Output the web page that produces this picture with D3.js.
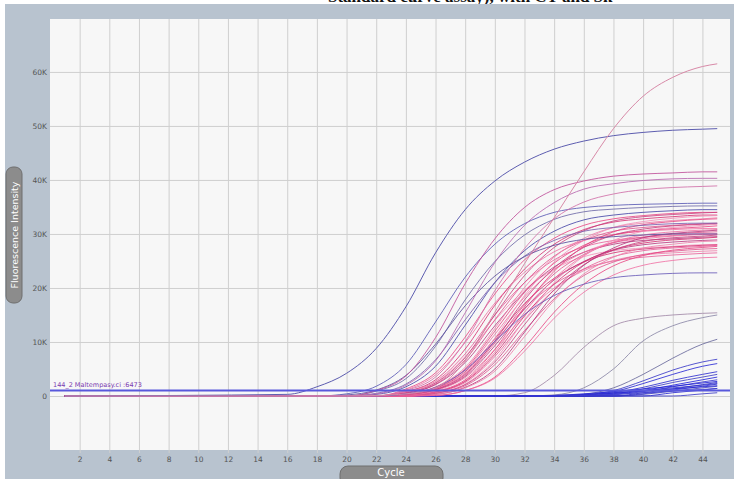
<!DOCTYPE html>
<html>
<head>
<meta charset="utf-8">
<script src="https://cdn.jsdelivr.net/npm/d3@7/dist/d3.min.js"></script>
<style>
  body { margin: 0; background: #fff; }
  svg { display: block; }
</style>
</head>
<body>
<div id="chart"></div>
<script>
const cycles = [1, 16, 18, 20, 22, 24, 26, 28, 30, 32, 34, 36, 38, 40, 42, 44, 45];

const xTickLabels = [2, 4, 6, 8, 10, 12, 14, 16, 18, 20, 22, 24, 26, 28, 30, 32, 34, 36, 38, 40, 42, 44];
const yTicks = [0, 10, 20, 30, 40, 50, 60];
const yTickLabels = ["0", "10K", "20K", "30K", "40K", "50K", "60K"];

const thresholdValue = 1.0;
const thresholdLabel = "144_2 Maltempasy.ci :6473";

// earliest curve, slate blue
const earlyBlue = [0, 0.3, 1.7, 4.2, 8.8, 16.5, 26.5, 34.5, 39.8, 43.3, 45.7, 47.2, 48.2, 48.8, 49.2, 49.4, 49.5];
// steep pink curve that ends highest
const steepPink = [0, 0, 0, 0, 0.1, 0.4, 1.5, 6.5, 15.5, 24.5, 33, 41.5, 49.5, 55.5, 59, 61, 61.5];

const upperPink = [
  [0, 0, 0, 0, 1.0, 3.7, 10.8, 20.8, 29.1, 34.9, 38.2, 39.8, 40.7, 41.1, 41.3, 41.5, 41.5],
  [0, 0, 0, 0, 0.4, 2.0, 6.5, 15.4, 24.7, 31.6, 35.8, 38.3, 39.3, 39.9, 40.2, 40.3, 40.3],
  [0, 0, 0, 0, 0, 1.0, 3.5, 10.1, 19.5, 27.3, 32.8, 35.9, 37.4, 38.2, 38.6, 38.8, 38.9]
];

const midPurple = [
  [0, 0, 0, 0.4, 1.8, 5.8, 13.7, 22, 28.1, 31.9, 34, 34.9, 35.3, 35.5, 35.6, 35.7, 35.7],
  [0, 0, 0, 0, 0.9, 3.2, 9.2, 17.8, 24.9, 29.8, 32.7, 34.1, 34.6, 34.9, 35.1, 35.2, 35.2],
  [0, 0, 0, 0, 0.3, 1.7, 5.5, 13.1, 21, 26.9, 30.5, 32.6, 33.5, 34, 34.3, 34.5, 34.5],
  [0, 0, 0, 0, 0.5, 2.2, 6.7, 14.1, 21, 25.9, 28.8, 30.5, 31.2, 31.6, 31.9, 32, 32],
  [0, 0, 0, 0.2, 1.1, 3.8, 9.6, 16.7, 22.2, 25.8, 27.9, 29, 29.5, 29.8, 30, 30, 30],
  [0, 0, 0, 0, 0, 0.4, 1.6, 4.8, 10.1, 15.1, 18.6, 20.7, 21.9, 22.4, 22.7, 22.8, 22.8]
];

const pinkCluster = [
  [0, 0, 0, 0, 0, 1.3, 4.3, 10.9, 18.9, 25.2, 29.2, 31.6, 32.8, 33.4, 33.8, 34, 34],
  [0, 0, 0, 0, 0, 1.1, 3.9, 9.9, 17.2, 22.9, 26.7, 28.8, 29.9, 30.5, 30.8, 31, 31],
  [0, 0, 0, 0, 0, 0.8, 3, 8.7, 16.8, 23.5, 28.1, 30.8, 32.2, 32.8, 33.2, 33.5, 33.5],
  [0, 0, 0, 0, 0, 0.8, 2.7, 7.8, 15, 21, 25.2, 27.6, 28.8, 29.4, 29.7, 30, 30],
  [0, 0, 0, 0, 0, 0.7, 2.5, 7.3, 14, 19.6, 23.5, 25.8, 26.9, 27.4, 27.7, 28, 28],
  [0, 0, 0, 0, 0, 0.6, 2.4, 7.1, 15, 22.3, 27.5, 30.6, 32.4, 33.2, 33.6, 33.9, 34],
  [0, 0, 0, 0, 0, 0.5, 2.2, 6.7, 14.1, 21, 25.9, 28.8, 30.5, 31.2, 31.6, 31.9, 32],
  [0, 0, 0, 0, 0, 0.5, 2.1, 6.2, 13, 19.3, 23.9, 26.6, 28.1, 28.8, 29.1, 29.4, 29.5],
  [0, 0, 0, 0, 0, 0.3, 1.7, 5.3, 12.5, 20.1, 25.7, 29.2, 31.2, 32, 32.5, 32.8, 33],
  [0, 0, 0, 0, 0, 0.3, 1.6, 5, 12, 19.2, 24.6, 27.9, 29.8, 30.6, 31, 31.3, 31.5],
  [0, 0, 0, 0, 0, 0.3, 1.5, 4.8, 11.4, 18.3, 23.4, 26.6, 28.4, 29.1, 29.6, 29.9, 30],
  [0, 0, 0, 0, 0, 0.3, 1.4, 4.5, 10.6, 17.1, 21.8, 24.8, 26.5, 27.2, 27.6, 27.9, 28],
  [0, 0, 0, 0, 0, 0.3, 1.3, 4.2, 10.1, 16.2, 20.7, 23.5, 25, 25.7, 26.1, 26.4, 26.5],
  [0, 0, 0, 0, 0, 0.2, 1.2, 4.2, 10.7, 18.6, 24.8, 28.8, 31.2, 32.3, 32.9, 33.3, 33.4],
  [0, 0, 0, 0, 0, 0.2, 1.2, 4, 10.2, 17.8, 23.7, 27.5, 29.8, 30.9, 31.5, 31.8, 31.9],
  [0, 0, 0, 0, 0, 0.2, 1.1, 3.8, 9.8, 16.9, 22.6, 26.2, 28.4, 29.4, 30, 30.3, 30.4],
  [0, 0, 0, 0, 0, 0.1, 1.1, 3.6, 9.3, 16.1, 21.5, 24.9, 27, 28, 28.5, 28.8, 28.9],
  [0, 0, 0, 0, 0, 0.1, 1, 3.4, 8.6, 15, 20, 23.2, 25.1, 26.1, 26.5, 26.8, 26.9],
  [0, 0, 0, 0, 0, 0, 0.8, 3, 8.6, 16.5, 23.1, 27.7, 30.4, 31.7, 32.3, 32.7, 32.8],
  [0, 0, 0, 0, 0, 0, 0.8, 2.8, 8.1, 15.5, 21.7, 26, 28.5, 29.8, 30.4, 30.7, 30.8],
  [0, 0, 0, 0, 0, 0, 0.7, 2.7, 7.7, 14.8, 20.7, 24.8, 27.1, 28.3, 28.9, 29.2, 29.4],
  [0, 0, 0, 0, 0, 0, 0.7, 2.5, 7.3, 14, 19.6, 23.5, 25.8, 26.9, 27.4, 27.7, 27.9],
  [0, 0, 0, 0, 0, 0, 0.5, 2.2, 6.7, 14.1, 21, 25.9, 28.8, 30.5, 31.2, 31.6, 31.8],
  [0, 0, 0, 0, 0, 0, 0.5, 2.1, 6.3, 13.2, 19.7, 24.3, 27, 28.6, 29.3, 29.6, 29.8],
  [0, 0, 0, 0, 0, 0, 0.5, 1.9, 5.8, 12.1, 18, 22.3, 24.8, 26.2, 26.8, 27.2, 27.3],
  [0, 0, 0, 0, 0, 0, 0.3, 1.6, 5, 11.8, 18.9, 24.2, 27.4, 29.3, 30.1, 30.5, 30.7],
  [0, 0, 0, 0, 0, 0, 0.3, 1.5, 4.6, 11, 17.7, 22.6, 25.7, 27.4, 28.1, 28.6, 28.7],
  [0, 0, 0, 0, 0, 0, 0.1, 1, 3.5, 9, 15.5, 20.7, 24.1, 26, 27, 27.5, 27.7],
  [0, 0, 0, 0, 0, 0, 0.1, 1, 3.3, 8.3, 14.4, 19.2, 22.4, 24.2, 25.1, 25.6, 25.7]
];

const lateBlue = [
  [0, 0, 0, 0, 0, 0, 0, 0, 0, 0.6, 3.8, 9, 13, 14.4, 15, 15.3, 15.4],
  [0, 0, 0, 0, 0, 0, 0, 0, 0, 0, 0.2, 1.5, 5, 10.2, 13, 14.5, 15],
  [0, 0, 0, 0, 0, 0, 0, 0, 0, 0, 0, 0.3, 1.5, 4, 7, 9.6, 10.5],
  [0, 0, 0, 0, 0, 0, 0, 0, 0, 0, 0, 0.2, 1, 2.8, 4.8, 6.3, 6.8],
  [0, 0, 0, 0, 0, 0, 0, 0, 0, 0, 0, 0.1, 0.8, 2.3, 4, 5.5, 6],
  [0, 0, 0, 0, 0, 0, 0, 0, 0, 0, 0, 0, 0.6, 1.6, 2.9, 4, 4.5],
  [0, 0, 0, 0, 0, 0, 0, 0, 0, 0, 0, 0, 0.4, 1.3, 2.5, 3.5, 4],
  [0, 0, 0, 0, 0, 0, 0, 0, 0, 0, 0, 0, 0.3, 1, 2, 3, 3.5],
  [0, 0, 0, 0, 0, 0, 0, 0, 0, 0, 0, 0, 0.2, 0.8, 1.7, 2.6, 3],
  [0, 0, 0, 0, 0, 0, 0, 0, 0, 0, 0, 0, 0, 0.6, 1.3, 2.1, 2.5],
  [0, 0, 0, 0, 0, 0, 0, 0, 0, 0, 0, 0, 0, 0.4, 1.1, 1.8, 2.2],
  [0, 0, 0, 0, 0, 0, 0, 0, 0, 0, 0, 0, 0, 0.3, 0.9, 1.5, 1.8],
  [0, 0, 0, 0, 0, 0, 0, 0, 0, 0, 0, 0, 0, 0, 0.6, 1.1, 1.4],
  [0, 0, 0, 0, 0, 0, 0, 0, 0, 0, 0, 0, 0, 0, 0, 0.4, 0.6],
  [0, 0, 0, 0, 0, 0, 0, 0, 0, 0, 0.1, 0.4, 0.8, 1.3, 1.8, 2.4, 2.7],
  [0, 0, 0, 0, 0, 0, 0, 0, 0, 0, 0.1, 0.3, 0.6, 1.0, 1.5, 2.0, 2.3],
  [0, 0, 0, 0, 0, 0, 0, 0, 0, 0, 0, 0.2, 0.5, 0.9, 1.3, 1.7, 1.9],
  [0, 0, 0, 0, 0, 0, 0, 0, 0, 0, 0, 0.1, 0.3, 0.6, 0.9, 1.2, 1.4]
];

const pinkColors = ["#e8407f", "#f06aa0", "#d42a6e", "#e75a96", "#f28cb6", "#c73d7d", "#e0508c", "#b8327a", "#ee7aa8"];
const purpleColors = ["#5b5bb5", "#6e6aa8", "#4848a8", "#7c5fae", "#5a4f9e", "#6a5cb8"];
const lateColors = ["#a28aa8", "#8c88a8", "#6a6a9c", "#3a3ac8", "#2b2bd6", "#3030d0", "#4040c4", "#2626dc", "#3a3ad0", "#2e2ec8", "#3535d8", "#4545c0", "#2a2ad0", "#3c3cc8", "#2020d8", "#3434cc", "#2828d4", "#4040d0"];

const width = 734, height = 479;
const margin = { left: 50, top: 19, right: 4, bottom: 29 };

const x = d3.scaleLinear().domain([0, 45.86]).range([margin.left, width - margin.right]);
const y = d3.scaleLinear().domain([-10, 69.8]).range([height - margin.bottom, margin.top]);

const svg = d3.select("#chart").append("svg")
  .attr("width", width)
  .attr("height", height);

// title of the page, mostly cut off by the top edge
svg.append("text")
  .attr("x", 328)
  .attr("y", 2)
  .attr("font-family", "Liberation Serif, Times New Roman, serif")
  .attr("font-weight", "bold")
  .attr("font-size", 17)
  .attr("fill", "#111")
  .text("Standard curve assay), with CT and Sk");

// outer panel
svg.append("rect")
  .attr("x", 5).attr("y", 4)
  .attr("width", width - 5).attr("height", height - 4)
  .attr("fill", "#b8c3cf");

svg.append("rect")
  .attr("x", margin.left).attr("y", margin.top)
  .attr("width", x.range()[1] - x.range()[0])
  .attr("height", y.range()[0] - y.range()[1])
  .attr("fill", "#f7f7f7");

// grid + axes
const xAxis = d3.axisBottom(x)
  .tickValues(xTickLabels)
  .tickSize(-(y.range()[0] - y.range()[1] + 3))
  .tickPadding(4);

const yAxis = d3.axisLeft(y)
  .tickValues(yTicks)
  .tickFormat((d, i) => yTickLabels[i])
  .tickSize(-(x.range()[1] - x.range()[0]))
  .tickPadding(3);

const gx = svg.append("g")
  .attr("transform", `translate(0,${y.range()[0] + 3})`)
  .call(xAxis);
const gy = svg.append("g")
  .attr("transform", `translate(${margin.left},0)`)
  .call(yAxis);

[gx, gy].forEach(g => {
  g.select(".domain").remove();
  g.selectAll(".tick line").attr("stroke", "#cfcfcf");
  g.selectAll(".tick text")
    .attr("fill", "#555")
    .attr("font-size", 7.5)
    .attr("font-family", "DejaVu Sans, sans-serif");
});

const line = d3.line()
  .x((d, i) => x(cycles[i]))
  .y(d => y(d))
  .curve(d3.curveMonotoneX);

const curves = svg.append("g")
  .attr("fill", "none")
  .attr("stroke-width", 1);

curves.selectAll(".late").data(lateBlue).enter().append("path")
  .attr("d", line)
  .attr("stroke", (d, i) => lateColors[i % lateColors.length])
  .attr("stroke-opacity", 0.85);

curves.selectAll(".pink").data(pinkCluster).enter().append("path")
  .attr("d", line)
  .attr("stroke", (d, i) => pinkColors[i % pinkColors.length])
  .attr("stroke-opacity", 0.8);

curves.selectAll(".mid").data(midPurple).enter().append("path")
  .attr("d", line)
  .attr("stroke", (d, i) => purpleColors[i % purpleColors.length])
  .attr("stroke-opacity", 0.85);

curves.selectAll(".upper").data(upperPink).enter().append("path")
  .attr("d", line)
  .attr("stroke", (d, i) => ["#c0509a", "#b868b0", "#d070a8"][i])
  .attr("stroke-opacity", 0.85);

curves.append("path")
  .attr("d", line(earlyBlue))
  .attr("stroke", "#5d5db0");

curves.append("path")
  .attr("d", line(steepPink))
  .attr("stroke", "#d88aa8");

// threshold
svg.append("line")
  .attr("x1", x.range()[0]).attr("x2", x.range()[1])
  .attr("y1", y(thresholdValue)).attr("y2", y(thresholdValue))
  .attr("stroke", "#5858dc")
  .attr("stroke-width", 2);

svg.append("text")
  .attr("x", margin.left + 3)
  .attr("y", y(thresholdValue) - 4)
  .attr("font-size", 6.5)
  .attr("font-family", "DejaVu Sans, sans-serif")
  .attr("fill", "#7a3ab0")
  .text(thresholdLabel);

// axis title pills
svg.append("rect")
  .attr("x", 6).attr("y", 167)
  .attr("width", 16).attr("height", 136)
  .attr("rx", 7)
  .attr("fill", "#8c8c8c")
  .attr("stroke", "#6f6f6f");

svg.append("text")
  .attr("transform", "translate(17.5,235) rotate(-90)")
  .attr("text-anchor", "middle")
  .attr("font-size", 9.5)
  .attr("font-family", "DejaVu Sans, sans-serif")
  .attr("fill", "#fff")
  .text("Fluorescence Intensity");

svg.append("rect")
  .attr("x", 340).attr("y", 466)
  .attr("width", 103).attr("height", 20)
  .attr("rx", 8)
  .attr("fill", "#8c8c8c")
  .attr("stroke", "#6f6f6f");

svg.append("text")
  .attr("x", 391).attr("y", 476)
  .attr("text-anchor", "middle")
  .attr("font-size", 10)
  .attr("font-family", "DejaVu Sans, sans-serif")
  .attr("fill", "#fff")
  .text("Cycle");
</script>
</body>
</html>
